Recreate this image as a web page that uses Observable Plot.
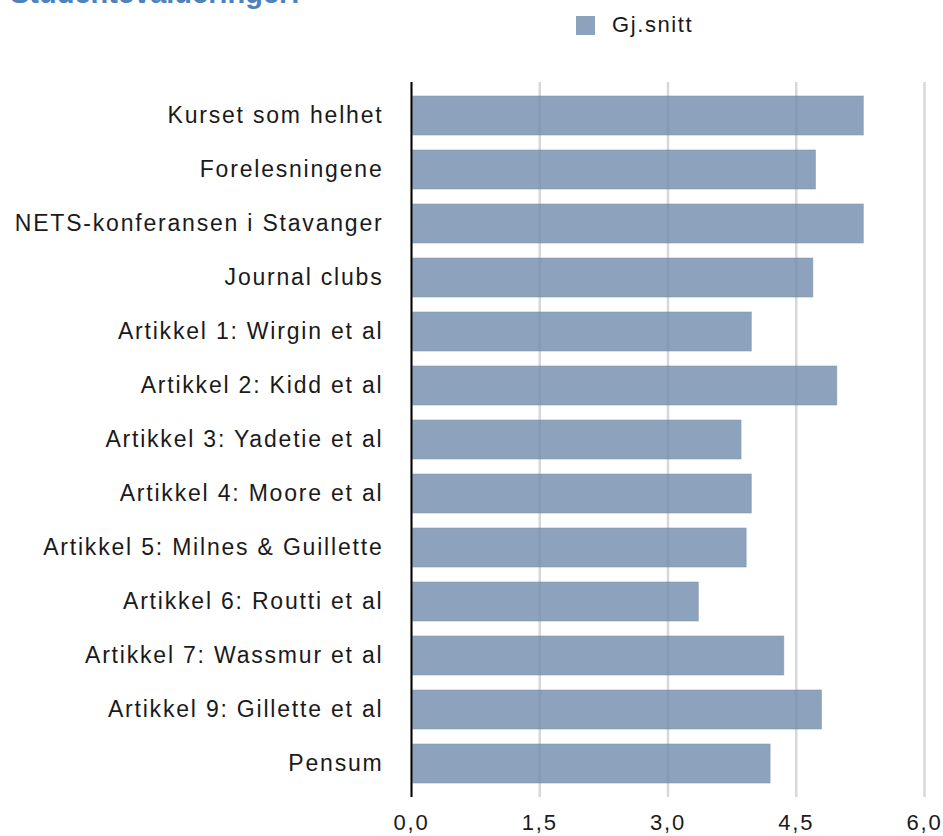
<!DOCTYPE html>
<html><head><meta charset="utf-8">
<script src="https://cdn.jsdelivr.net/npm/d3@7"></script>
<script src="https://cdn.jsdelivr.net/npm/@observablehq/plot@0.6"></script>
<style>
body{margin:0;background:#fff;font-family:"Liberation Sans",Arial,sans-serif;}
#wrap{position:relative;width:943px;height:836px;overflow:hidden;background:#fff;}
#title{position:absolute;left:10px;top:-21px;font-weight:bold;font-size:29px;font-family:"Liberation Sans",Arial,sans-serif;color:#4f81bd;line-height:1;white-space:nowrap;}
#legend{position:absolute;left:576px;top:14px;display:flex;align-items:center;font-size:22px;letter-spacing:1.6px;color:#1a1a1a;line-height:1;}
#legend .sw{width:19px;height:19px;background:#8da2bd;margin-right:17px;}
#chart{position:absolute;left:0;top:60px;}
#chart svg text{letter-spacing:1.8px;}
</style>
</head><body>
<div id="wrap">
  <div id="title"></div>
  <div id="legend"><span class="sw"></span><span id="legtext"></span></div>
  <div id="chart"></div>
</div>
<script>
const titleText = "Studentevalueringer:";
const seriesName = "Gj.snitt";
const categories = [
  "Kurset som helhet",
  "Forelesningene",
  "NETS-konferansen i Stavanger",
  "Journal clubs",
  "Artikkel 1: Wirgin et al",
  "Artikkel 2: Kidd et al",
  "Artikkel 3: Yadetie et al",
  "Artikkel 4: Moore et al",
  "Artikkel 5: Milnes & Guillette",
  "Artikkel 6: Routti et al",
  "Artikkel 7: Wassmur et al",
  "Artikkel 9: Gillette et al",
  "Pensum"
];
const values = [5.29, 4.73, 5.29, 4.70, 3.98, 4.98, 3.86, 3.98, 3.92, 3.36, 4.36, 4.80, 4.20];
const xTicks = [0, 1.5, 3.0, 4.5, 6.0];
const xTickLabels = ["0,0", "1,5", "3,0", "4,5", "6,0"];

document.getElementById("title").textContent = titleText;
document.getElementById("legtext").textContent = seriesName;

const data = categories.map((c, i) => ({label: c, value: values[i]}));
const barColor = "#8da2bd";

const chart = Plot.plot({
  width: 943,
  height: 776,
  marginTop: 22,
  marginBottom: 39,
  marginLeft: 411,
  marginRight: 19,
  style: {fontFamily: "Liberation Sans, Arial, sans-serif", color: "#1a1a1a", background: "#fff"},
  x: {domain: [0, 6]},
  y: {domain: categories, paddingInner: 0.27, paddingOuter: 0.2, align: 0.5},
  marks: [
    Plot.gridX(xTicks, {stroke: "#e3e3e3", strokeOpacity: 1, strokeWidth: 2.5}),
    Plot.barX(data, {x: "value", y: "label", fill: barColor, stroke: "#7f95b2", strokeWidth: 0.8, strokeOpacity: 0.7, insetLeft: 1.5}),
    Plot.ruleX(xTicks.slice(1), {stroke: "#3a4a60", strokeOpacity: 0.07, strokeWidth: 2.5}),
    Plot.ruleX([0], {stroke: "#000", strokeWidth: 2}),
    Plot.axisX(xTicks, {tickSize: 0, tickPadding: 17, fontSize: 22, tickFormat: (d) => xTickLabels[xTicks.indexOf(d)], label: null, fill: "#1a1a1a"}),
    Plot.axisY({tickSize: 0, tickPadding: 28, fontSize: 23, label: null, fill: "#1a1a1a"})
  ]
});
document.getElementById("chart").appendChild(chart);
</script>
</body></html>
